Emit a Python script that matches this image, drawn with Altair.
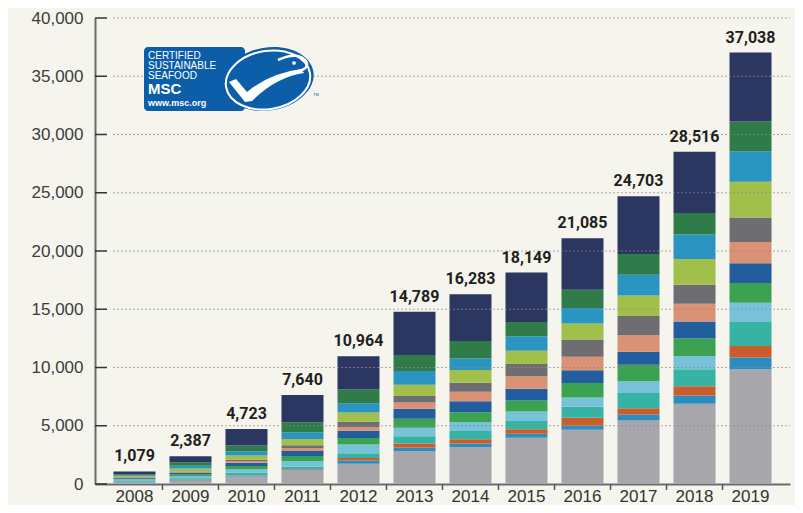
import altair as alt
import pandas as pd

# ---------------- data ----------------
years = ["2008", "2009", "2010", "2011", "2012", "2013", "2014", "2015", "2016", "2017", "2018", "2019"]
totals = [1079, 2387, 4723, 7640, 10964, 14789, 16283, 18149, 21085, 24703, 28516, 37038]

# stacked segments, bottom to top
seg_grey    = [150, 280, 650, 1190, 1730, 2840, 3180, 3980, 4660, 5460, 6880, 9860]
seg_blue    = [30, 50, 40, 50, 290, 290, 290, 340, 340, 510, 710, 990]
seg_orange  = [20, 40, 40, 50, 220, 340, 370, 370, 680, 540, 790, 1000]
seg_teal    = [60, 130, 230, 200, 400, 620, 710, 710, 960, 1310, 1480, 2050]
seg_ltblue  = [130, 160, 310, 490, 740, 740, 770, 830, 790, 990, 1130, 1650]
seg_green   = [60, 150, 280, 430, 560, 770, 830, 940, 1230, 1420, 1510, 1700]
seg_dkblue  = [60, 140, 280, 430, 630, 850, 960, 1000, 1110, 1130, 1450, 1700]
seg_salmon  = [60, 60, 140, 260, 310, 540, 800, 1070, 1160, 1400, 1530, 1820]
seg_dkgrey  = [30, 70, 110, 230, 460, 570, 790, 1060, 1480, 1650, 1620, 2100]
seg_lime    = [60, 260, 370, 540, 790, 960, 1080, 1130, 1360, 1760, 2220, 3070]
seg_cyan    = [80, 220, 370, 570, 800, 1190, 990, 1250, 1330, 1790, 2100, 2620]
seg_dkgreen = [90, 300, 480, 850, 1190, 1360, 1510, 1220, 1570, 1790, 1850, 2560]
seg_navy    = [249, 527, 1423, 2350, 2844, 3719, 4003, 4249, 4415, 4953, 5246, 5918]

segment_names = ["S1", "S2", "S3", "S4", "S5", "S6", "S7", "S8", "S9", "S10", "S11", "S12", "S13"]
segment_values = [seg_grey, seg_blue, seg_orange, seg_teal, seg_ltblue, seg_green, seg_dkblue,
                  seg_salmon, seg_dkgrey, seg_lime, seg_cyan, seg_dkgreen, seg_navy]
segment_colors = ["#a7a6aa", "#2b8cbf", "#c95e2c", "#36b3a2", "#77c2d9", "#3aa251", "#225e9e",
                  "#da9174", "#6e6d72", "#a1bf4b", "#2a95c0", "#2f7c4a", "#2c3761"]

y_ticks = [0, 5000, 10000, 15000, 20000, 25000, 30000, 35000, 40000]

rows = []
for i, (name, vals) in enumerate(zip(segment_names, segment_values)):
    for y, v in zip(years, vals):
        rows.append({"year": y, "segment": name, "value": v, "order": i})
df = pd.DataFrame(rows)
df_tot = pd.DataFrame({"year": years, "total": totals})
df_ticks = pd.DataFrame({"v": y_ticks})
df_grid = pd.DataFrame({"v": y_ticks[1:]})
df_xt = pd.DataFrame({"year": years[1:]})
one = pd.DataFrame({"k": [0]})

W, H = 695, 466
TOP = 10
BG = "#f5f4ed"
xscale = alt.Scale(domain=years, paddingInner=0.25, paddingOuter=0.33)
yscale = alt.Scale(domain=[0, 40000], nice=False)
X_AX = alt.Axis(title=None, ticks=False, labelAngle=0, domainColor="#6b6b6b",
                domainWidth=2, labelFont="Liberation Sans", labelFontSize=17,
                labelColor="#333333", labelBaseline="alphabetic", labelPadding=17, grid=False)
Y_AX = alt.Axis(title=None, values=y_ticks, format=",d", ticks=False, grid=False,
                domainColor="#6b6b6b", domainWidth=2, labelFont="Liberation Sans",
                labelFontSize=17, labelColor="#3d3d3d", labelPadding=12)

bars = alt.Chart(df).mark_bar().encode(
    x=alt.X("year:O", scale=xscale, sort=years, axis=X_AX),
    y=alt.Y("sum(value):Q", scale=yscale, stack="zero", axis=Y_AX),
    color=alt.Color("segment:N", scale=alt.Scale(domain=segment_names, range=segment_colors),
                    legend=None),
    order=alt.Order("order:Q", sort="ascending"),
)

grid = alt.Chart(df_grid).mark_rule(color="#8a8a8a", strokeDash=[2, 2], strokeWidth=1,
                                    opacity=0.7).encode(
    y=alt.Y("v:Q", scale=yscale, axis=Y_AX),
    x=alt.value(18), x2=alt.value(W),
)

yt = alt.Chart(df_ticks).mark_rule(color="#333333", strokeWidth=1.5).encode(
    y=alt.Y("v:Q", scale=yscale, axis=Y_AX),
    x=alt.value(0), x2=alt.value(12),
)

xt = alt.Chart(df_xt).mark_rule(color="#555555", strokeWidth=1.5, xOffset=-28).encode(
    x=alt.X("year:O", scale=xscale, sort=years, axis=X_AX),
    y=alt.value(H), y2=alt.value(H + 6),
)

labels = alt.Chart(df_tot).mark_text(
    font="Roboto", fontWeight="bold", fontSize=16, color="#231f20",
    baseline="alphabetic", dy=-10,
).encode(
    x=alt.X("year:O", scale=xscale, sort=years, axis=X_AX),
    y=alt.Y("total:Q", scale=yscale, axis=Y_AX),
    text=alt.Text("total:Q", format=","),
)

# ---------------- MSC logo ----------------
LOGO_BLUE = "#0c5ea9"
oy = 6 - TOP  # keep logo at its page position
cx, cy = 173, 65 + oy
logo_rect = alt.Chart(one).mark_rect(color=LOGO_BLUE, cornerRadius=4).encode(
    x=alt.value(49), x2=alt.value(150), y=alt.value(33 + oy), y2=alt.value(97 + oy))
ell_path = "M -1 0 A 1 0.685 0 1 1 1 0 A 1 0.685 0 1 1 -1 0 Z"
logo_ell = alt.Chart(one).mark_point(shape=ell_path, size=8464, filled=True, fill=LOGO_BLUE,
                                     strokeWidth=0, opacity=1, angle=350.5).encode(
    x=alt.value(cx), y=alt.value(cy))
logo_ring = alt.Chart(one).mark_point(shape=ell_path, size=7225, filled=False, stroke="white",
                                      strokeWidth=2, opacity=1, angle=350.5).encode(
    x=alt.value(cx), y=alt.value(cy + 1))
check_path = "M -39 3 L -32 0 L -21 13 Q 2 -6 33 -10 L 36 -6 Q 8 -2 -16 22 L -23 23 Z"
logo_check = alt.Chart(one).mark_point(shape=check_path, size=4, filled=True, fill="white",
                                       strokeWidth=0, opacity=1).encode(
    x=alt.value(cx), y=alt.value(cy))
head_path = "M 10 -19 Q 30 -28 38 -18 Q 42 -11 31 -8"
logo_head = alt.Chart(one).mark_point(shape=head_path, size=4, filled=False, stroke="white",
                                      strokeWidth=2.5, opacity=1).encode(
    x=alt.value(cx), y=alt.value(cy))
logo_eye = alt.Chart(one).mark_point(shape="circle", size=14, filled=True, fill="white",
                                     strokeWidth=0, opacity=1).encode(
    x=alt.value(cx + 26), y=alt.value(cy - 16))

def logo_text(txt, x, y, size, weight="normal"):
    return alt.Chart(one).mark_text(text=txt, font="Liberation Sans", fontSize=size,
                                    fontWeight=weight, color="white", align="left",
                                    baseline="middle").encode(x=alt.value(x), y=alt.value(y + oy))

logo_texts = [
    logo_text("CERTIFIED", 53, 42, 10),
    logo_text("SUSTAINABLE", 53, 52, 10),
    logo_text("SEAFOOD", 53, 62, 10),
    logo_text("MSC", 53, 75, 15, "bold"),
    logo_text("www.msc.org", 53, 88.5, 9, "bold"),
]
tm = alt.Chart(one).mark_text(text="TM", font="Liberation Sans", fontSize=4, color=LOGO_BLUE,
                              align="left").encode(x=alt.value(218), y=alt.value(81 + oy))

chart = alt.layer(
    bars, grid, yt, xt, labels,
    logo_rect, logo_ell, logo_ring, logo_check, logo_head, logo_eye, *logo_texts, tm,
).properties(
    width=W, height=H,
    autosize=alt.AutoSizeParams(type="none"),
    padding={"left": 87, "right": 5, "top": TOP, "bottom": 21},
    background=BG,
).configure_view(stroke=None)

chart.save("out.html", embed_options={"renderer": "svg", "actions": False})
